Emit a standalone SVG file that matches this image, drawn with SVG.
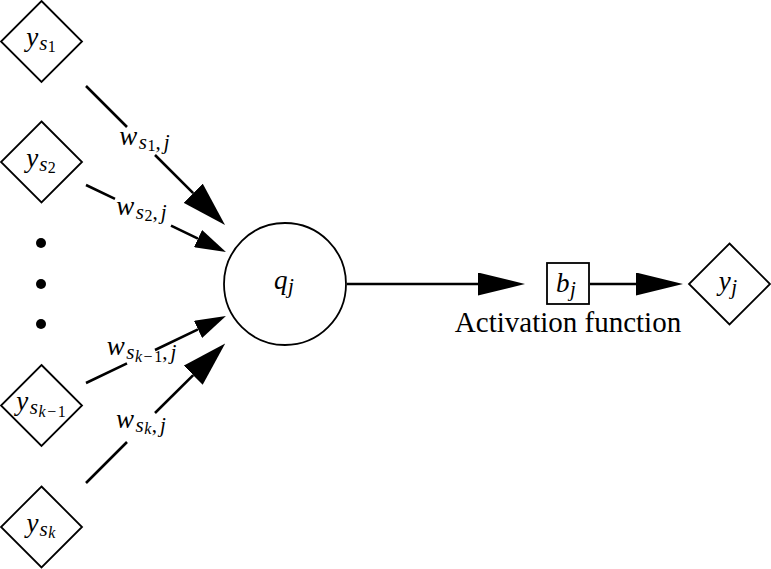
<svg xmlns="http://www.w3.org/2000/svg" width="771" height="569" viewBox="0 0 771 569">
<style>
  .shape { fill: #fff; stroke: #000; stroke-width: 1.8; }
  .edge { fill: none; stroke: #000; stroke-width: 2.6; }
  .m { font-family: 'Liberation Serif', 'DejaVu Serif', serif; font-style: italic; font-size: 27px; fill: #000; }
  .s { font-size: 21px; }
  .ss { font-size: 16px; }
  .r { font-style: normal; }
  .lbl { font-family: 'Liberation Serif', 'DejaVu Serif', serif; font-size: 29px; fill: #000; }
</style>
<defs>
  <marker id="big" markerUnits="userSpaceOnUse" markerWidth="45" markerHeight="27" refX="0" refY="13.5" orient="auto">
    <path d="M0,0 L45,13.5 L0,27 z" fill="#000"/>
  </marker>
  <marker id="small" markerUnits="userSpaceOnUse" markerWidth="31" markerHeight="19" refX="0" refY="9.5" orient="auto">
    <path d="M0,0 L31,9.5 L0,19 z" fill="#000"/>
  </marker>
  <marker id="out" markerUnits="userSpaceOnUse" markerWidth="47" markerHeight="23" refX="0" refY="11.5" orient="auto">
    <path d="M0,0 L47,11.5 L0,23 z" fill="#000"/>
  </marker>
</defs>

<g id="connectors">
  <path class="edge" d="M86,86 L127,127 M155,155 L193.2,193.2" marker-end="url(#big)"/>
  <path class="edge" d="M86,185 L115,198.9 M171,225.7 L198,238.6" marker-end="url(#small)"/>
  <path class="edge" d="M86,383 L127,363.4 M155,350 L198,329.4" marker-end="url(#small)"/>
  <path class="edge" d="M86,483 L127,442 M155,413 L193.2,375.2" marker-end="url(#big)"/>
  <path class="edge" d="M347,284 L478,284" marker-end="url(#out)"/>
  <path class="edge" d="M590,284 L636,284" marker-end="url(#out)"/>
  <text class="m" x="144.5" y="145" text-anchor="middle">w<tspan class="s" dx="1.5" dy="4">s</tspan><tspan class="ss r" dx="0.5" dy="2">1</tspan><tspan class="s r" dy="-2">,</tspan><tspan class="s" dx="3">j</tspan></text>
  <text class="m" x="141.5" y="215" text-anchor="middle">w<tspan class="s" dx="1.5" dy="4">s</tspan><tspan class="ss r" dx="0.5" dy="2">2</tspan><tspan class="s r" dy="-2">,</tspan><tspan class="s" dx="3">j</tspan></text>
  <text class="m" x="141.5" y="355" text-anchor="middle">w<tspan class="s" dx="1.5" dy="4">s</tspan><tspan class="ss" dx="0.5" dy="3">k</tspan><tspan class="ss r" dx="1.5">−</tspan><tspan class="ss r" dx="1.5">1</tspan><tspan class="s r" dy="-3">,</tspan><tspan class="s" dx="3">j</tspan></text>
  <text class="m" x="141" y="428" text-anchor="middle">w<tspan class="s" dx="1.5" dy="4">s</tspan><tspan class="ss" dx="0.5" dy="2">k</tspan><tspan class="s r" dx="0.5" dy="-2">,</tspan><tspan class="s" dx="3">j</tspan></text>
</g>

<g id="node-ys1">
  <path class="shape" d="M41.5,1 L82,41.5 L41.5,82 L1,41.5 z"/>
  <text class="m" x="41" y="46" text-anchor="middle">y<tspan class="s" dx="1" dy="4">s</tspan><tspan class="ss r" dx="0.5" dy="2">1</tspan></text>
</g>
<g id="node-ys2">
  <path class="shape" d="M41.5,121.5 L82,162 L41.5,202.5 L1,162 z"/>
  <text class="m" x="41" y="167" text-anchor="middle">y<tspan class="s" dx="1" dy="4">s</tspan><tspan class="ss r" dx="0.5" dy="2">2</tspan></text>
</g>
<g id="dots">
  <circle cx="41" cy="243" r="5" fill="#000"/>
  <circle cx="41" cy="284" r="5" fill="#000"/>
  <circle cx="41" cy="324" r="5" fill="#000"/>
</g>
<g id="node-ysk1">
  <path class="shape" d="M41.5,365 L82,405.5 L41.5,446 L1,405.5 z"/>
  <text class="m" x="41" y="410" text-anchor="middle">y<tspan class="s" dx="1.5" dy="4">s</tspan><tspan class="ss" dx="0.5" dy="3">k</tspan><tspan class="ss r" dx="1.5">−</tspan><tspan class="ss r" dx="1.5">1</tspan></text>
</g>
<g id="node-ysk">
  <path class="shape" d="M41.5,486.5 L82,527 L41.5,567.5 L1,527 z"/>
  <text class="m" x="41" y="532" text-anchor="middle">y<tspan class="s" dx="1" dy="4">s</tspan><tspan class="ss" dx="0.5" dy="2">k</tspan></text>
</g>
<g id="node-qj">
  <circle class="shape" cx="285" cy="284" r="61"/>
  <text class="m" x="284" y="289" text-anchor="middle">q<tspan class="s" dx="0.5" dy="4">j</tspan></text>
</g>
<g id="node-bj">
  <rect class="shape" x="547" y="263" width="42" height="41"/>
  <text class="m" x="566" y="292" text-anchor="middle">b<tspan class="s" dx="0.5" dy="4">j</tspan></text>
  <text class="lbl" x="568" y="332" text-anchor="middle">Activation function</text>
</g>
<g id="node-yj">
  <path class="shape" d="M729.5,243.5 L770,284 L729.5,324.5 L689,284 z"/>
  <text class="m" x="728" y="290" text-anchor="middle">y<tspan class="s" dx="0.5" dy="4">j</tspan></text>
</g>
</svg>
